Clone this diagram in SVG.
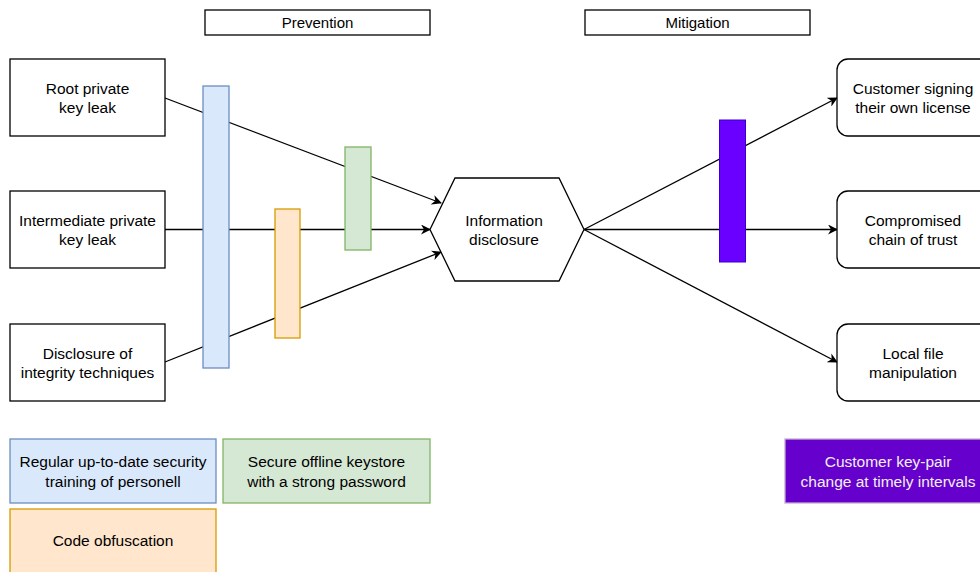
<svg xmlns="http://www.w3.org/2000/svg" width="980" height="572" viewBox="0 0 980 572">
<defs>
<marker id="ah" viewBox="0 0 10 10" refX="9" refY="5" markerWidth="10" markerHeight="10" markerUnits="userSpaceOnUse" orient="auto">
<path d="M0,0 L10,5 L0,10 L3,5 Z" fill="#000"/>
</marker>
<style>
text{font-family:"Liberation Sans",Arial,sans-serif;font-size:15.5px;fill:#000;text-anchor:middle}
text.h{font-size:15px}
.box{fill:#fff;stroke:#000;stroke-width:1.3}
.edge{fill:none;stroke:#000;stroke-width:1.3}
.blue{fill:#dae8fc;stroke:#6c8ebf;stroke-width:1.3}
.green{fill:#d5e8d4;stroke:#82b366;stroke-width:1.3}
.orange{fill:#ffe6cc;stroke:#d79b00;stroke-width:1.3}
.purple{fill:#6a00ff;stroke:#3700cc;stroke-width:1}
.purple2{fill:#6600cc;stroke:#c3abd0;stroke-width:1.3}
text.w{fill:#f0f0f0}
</style>
</defs>
<g id="prevention"><rect class="box" x="205" y="10" width="225" height="25"/><text class="h" x="317.5" y="28">Prevention</text></g>
<g id="mitigation"><rect class="box" x="585" y="10" width="225" height="25"/><text class="h" x="697.5" y="28">Mitigation</text></g>
<g id="connectors">
<line class="edge" x1="165" y1="98" x2="441" y2="203" marker-end="url(#ah)"/>
<line class="edge" x1="165" y1="229.5" x2="430" y2="229.5" marker-end="url(#ah)"/>
<line class="edge" x1="165" y1="362" x2="441" y2="252" marker-end="url(#ah)"/>
<line class="edge" x1="584" y1="229.5" x2="837" y2="98" marker-end="url(#ah)"/>
<line class="edge" x1="584" y1="229.5" x2="837" y2="229.5" marker-end="url(#ah)"/>
<line class="edge" x1="584" y1="229.5" x2="837" y2="362" marker-end="url(#ah)"/>
</g>
<g id="root"><rect class="box" x="10" y="59" width="155" height="77"/><text x="87.5" y="94">Root private</text><text x="87.5" y="113">key leak</text></g>
<g id="intermediate"><rect class="box" x="10" y="191" width="155" height="77"/><text x="87.5" y="226">Intermediate private</text><text x="87.5" y="245">key leak</text></g>
<g id="disclosure"><rect class="box" x="10" y="324" width="155" height="77"/><text x="87.5" y="359">Disclosure of</text><text x="87.5" y="378">integrity techniques</text></g>
<g id="bar-blue"><rect class="blue" x="203" y="86" width="26" height="282"/></g>
<g id="bar-orange"><rect class="orange" x="275" y="209" width="25" height="129"/></g>
<g id="bar-green"><rect class="green" x="345" y="147" width="26" height="103"/></g>
<g id="info"><polygon class="box" points="430,229.5 455,178 559,178 584,229.5 559,281 455,281"/><text x="504" y="226">Information</text><text x="504" y="245">disclosure</text></g>
<g id="bar-purple"><rect class="purple" x="719.5" y="120" width="26" height="142"/></g>
<g id="signing"><rect class="box" x="837" y="59" width="155" height="77" rx="11"/><text x="913" y="94">Customer signing</text><text x="913" y="113">their own license</text></g>
<g id="chain"><rect class="box" x="837" y="191" width="155" height="77" rx="11"/><text x="913" y="226">Compromised</text><text x="913" y="245">chain of trust</text></g>
<g id="local"><rect class="box" x="837" y="324" width="155" height="77" rx="11"/><text x="913" y="359">Local file</text><text x="913" y="378">manipulation</text></g>
<g id="legend-blue"><rect class="blue" x="10" y="439" width="206" height="64"/><text x="113" y="467">Regular up-to-date security</text><text x="113" y="487">training of personell</text></g>
<g id="legend-green"><rect class="green" x="223" y="439" width="207" height="64"/><text x="326.5" y="467">Secure offline keystore</text><text x="326.5" y="487">with a strong password</text></g>
<g id="legend-orange"><rect class="orange" x="10" y="509" width="206" height="70"/><text x="113" y="546">Code obfuscation</text></g>
<g id="legend-purple"><rect class="purple2" x="785" y="439" width="206" height="64"/><text class="w" x="888" y="467">Customer key-pair</text><text class="w" x="888" y="487">change at timely intervals</text></g>
</svg>
